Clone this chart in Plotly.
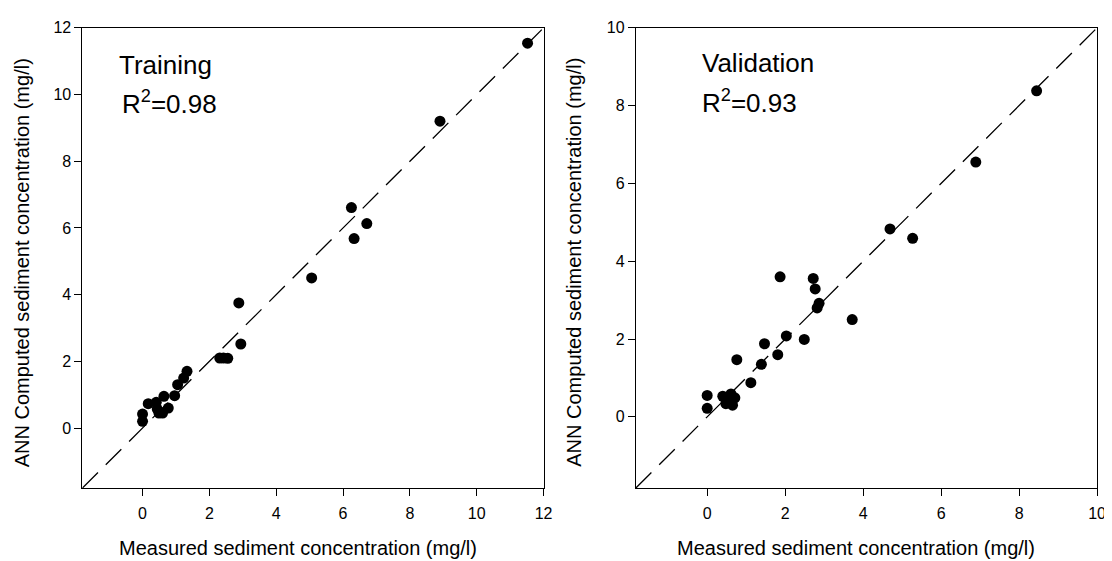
import plotly.graph_objects as go
from plotly.subplots import make_subplots

# Training data (measured vs ANN computed), mg/l
train_measured = [11.52, 8.9, 6.25, 6.71, 6.33, 5.06, 2.88, 2.94, 2.31, 2.42, 2.55,
                  1.33, 1.23, 1.05, 0.96, 0.64, 0.77, 0.17, 0.41, 0.44, 0.49, 0.60,
                  0.0, 0.0]
train_computed = [11.54, 9.2, 6.61, 6.13, 5.68, 4.5, 3.75, 2.52, 2.1, 2.1, 2.09,
                  1.7, 1.5, 1.3, 0.97, 0.95, 0.6, 0.73, 0.77, 0.57, 0.45, 0.45,
                  0.42, 0.2]

# Validation data
valid_measured = [8.45, 6.89, 4.69, 5.27, 3.72, 1.87, 2.72, 2.77, 2.87, 2.82, 2.49,
                  2.03, 1.47, 1.81, 1.39, 0.76, 1.12, 0.0, 0.0, 0.40, 0.61, 0.71,
                  0.48, 0.65, 0.55]
valid_computed = [8.38, 6.55, 4.83, 4.59, 2.5, 3.6, 3.56, 3.29, 2.92, 2.8, 1.99,
                  2.08, 1.88, 1.6, 1.35, 1.47, 0.88, 0.55, 0.22, 0.53, 0.59, 0.49,
                  0.34, 0.3, 0.45]

train_range = [-1.8, 12]
valid_range = [-1.83, 10]
train_ticks = [0, 2, 4, 6, 8, 10, 12]
valid_ticks = [0, 2, 4, 6, 8, 10]

FONT = "Liberation Sans, Arial, sans-serif"
# page body has an 8px margin, so the figure is a bit smaller and positions are shifted
OFF = 8
W, H = 1112 - OFF, 561 - OFF


def px(x):
    return (x - OFF) / W


def py(y):
    return 1 - (y - OFF) / H


fig = make_subplots(rows=1, cols=2)

for col, (xs, ys, rng) in enumerate([(train_measured, train_computed, train_range),
                                     (valid_measured, valid_computed, valid_range)], start=1):
    # 1:1 line
    fig.add_trace(go.Scatter(x=rng, y=rng, mode="lines",
                             line=dict(color="black", width=1.3, dash="22px,11px"),
                             showlegend=False, hoverinfo="skip"), row=1, col=col)
    fig.add_trace(go.Scatter(x=xs, y=ys, mode="markers",
                             marker=dict(color="black", size=11),
                             showlegend=False), row=1, col=col)

axis_style = dict(showline=True, linecolor="black", linewidth=1, mirror=True,
                  ticks="outside", ticklen=7, tickcolor="black", tickwidth=1,
                  showgrid=False, zeroline=False,
                  tickfont=dict(family=FONT, size=16, color="black"))

fig.update_xaxes(axis_style, ticklabelstandoff=4)
fig.update_yaxes(axis_style)
fig.update_layout(
    xaxis=dict(domain=[px(83), px(548)], range=train_range, tickvals=train_ticks),
    yaxis=dict(domain=[py(487), py(20)], range=train_range, tickvals=train_ticks),
    xaxis2=dict(domain=[px(641), px(1106)], range=valid_range, tickvals=valid_ticks),
    yaxis2=dict(domain=[py(487), py(20)], range=valid_range, tickvals=valid_ticks),
    width=W, height=H,
    margin=dict(l=0, r=0, t=0, b=0),
    plot_bgcolor="white", paper_bgcolor="white",
    font=dict(family=FONT, color="black"),
)

xtitle = "Measured sediment concentration (mg/l)"
ytitle = "ANN Computed sediment concentration (mg/l)"
ann = []
for cx, lx in [(300, 22), (863, 579)]:
    ann.append(dict(text=xtitle, x=px(cx), y=py(548), xref="paper", yref="paper",
                    xanchor="center", yanchor="middle",
                    showarrow=False, font=dict(size=20)))
    ann.append(dict(text=ytitle, x=px(lx), y=py(258), xref="paper", yref="paper",
                    xanchor="center", yanchor="middle",
                    showarrow=False, textangle=-90, font=dict(size=20)))

for left, txt, yc in [(118, "Training", 58), (121, "R<sup>2</sup>=0.98", 96),
                      (706, "Validation", 56), (706, "R<sup>2</sup>=0.93", 95)]:
    ann.append(dict(text=txt, x=px(left), y=py(yc), xref="paper", yref="paper",
                    xanchor="left", yanchor="middle",
                    showarrow=False, font=dict(size=26)))
fig.update_layout(annotations=ann)

fig.write_html("out.html")
